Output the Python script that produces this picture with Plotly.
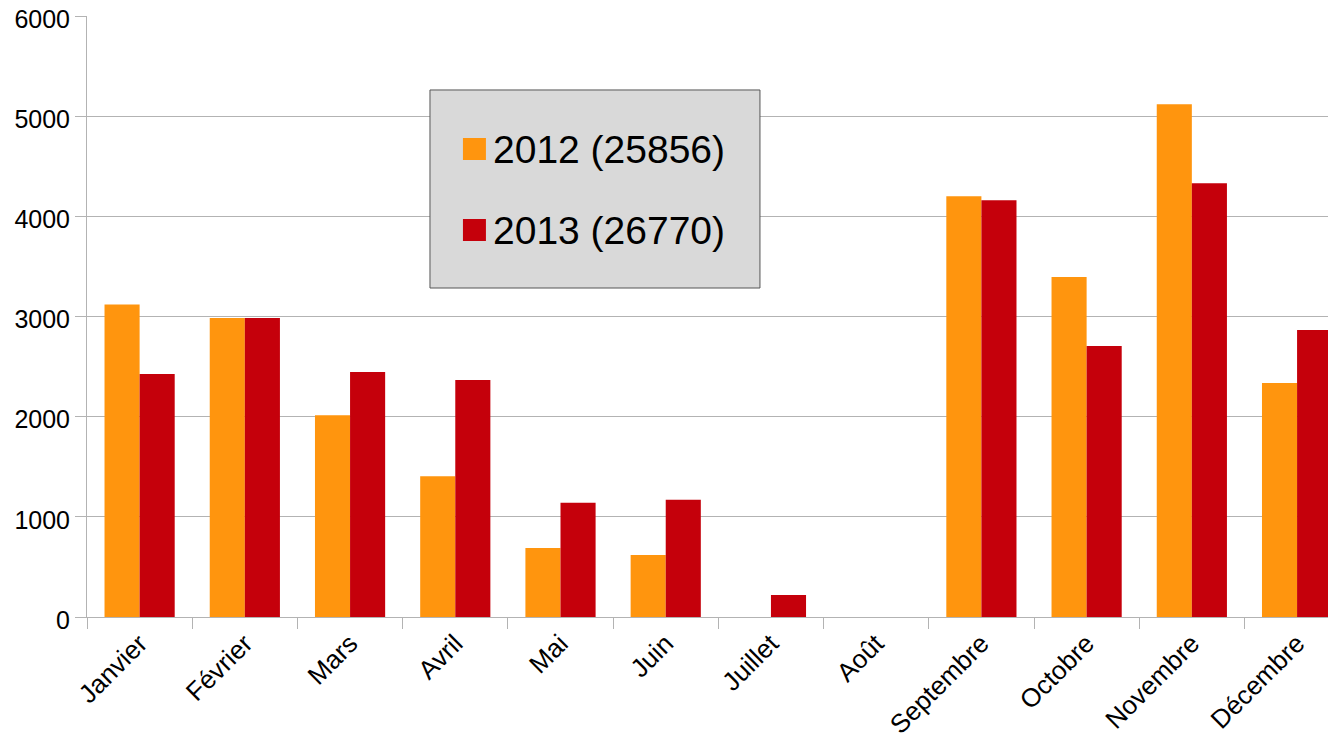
import plotly.graph_objects as go

mois = ["Janvier", "Février", "Mars", "Avril", "Mai", "Juin", "Juillet",
        "Août", "Septembre", "Octobre", "Novembre", "Décembre"]
v2012 = [3120, 2985, 2015, 1405, 690, 620, 0, 0, 4200, 3395, 5120, 2335]
v2013 = [2425, 2985, 2445, 2365, 1140, 1170, 220, 0, 4160, 2705, 4330, 2865]
series = [("2012 (25856)", v2012, "#FF950E"), ("2013 (26770)", v2013, "#C5000B")]

FONT = "Liberation Sans, Arial, sans-serif"
GRIS = "#b3b3b3"

fig = go.Figure()
for nom, vals, coul in series:
    fig.add_trace(go.Bar(x=mois, y=vals, name=nom, marker=dict(color=coul, line=dict(width=0)),
                         showlegend=False))

# légende dessinée à la main (grand carré de couleur comme dans l'original)
fig.add_shape(type="rect", xref="paper", yref="paper", x0=0.2746, x1=0.5388, y0=0.5474, y1=0.8769,
              fillcolor="#d9d9d9", line=dict(color="#555555", width=1))
for i, (nom, _, coul) in enumerate(series):
    yc = 0.7787 - i * 0.1348
    fig.add_shape(type="rect", xref="paper", yref="paper", x0=0.3010, x1=0.3194,
                  y0=yc - 0.0183, y1=yc + 0.0183, fillcolor=coul, line=dict(width=0))
    fig.add_annotation(xref="paper", yref="paper", x=0.3235, y=yc, text=nom, showarrow=False,
                       xanchor="left", yanchor="middle", font=dict(size=39, color="black", family=FONT))

# la page ajoute ~8 px de marge autour du graphique : on réduit d'autant
fig.update_layout(
    width=1328, height=731,
    margin=dict(l=79, r=0, t=8, b=122),
    paper_bgcolor="white", plot_bgcolor="white",
    barmode="group", bargap=0.333, bargroupgap=0,
    font=dict(family=FONT, color="black"),
    xaxis=dict(range=[-0.5, 11.37], tickangle=-45, tickson="boundaries", ticks="outside",
               ticklen=11, tickcolor=GRIS, showline=True, linecolor=GRIS, linewidth=1,
               showgrid=False, tickfont=dict(size=26), automargin=False),
    yaxis=dict(range=[0, 6000], dtick=1000, ticks="outside", ticklen=11, tickcolor=GRIS,
               showline=True, linecolor=GRIS, gridcolor=GRIS, gridwidth=1, zeroline=False,
               tickfont=dict(size=25), automargin=False, ticklabeloverflow="allow",
               ticklabelshift=3),
)

fig.write_html("out.html")
